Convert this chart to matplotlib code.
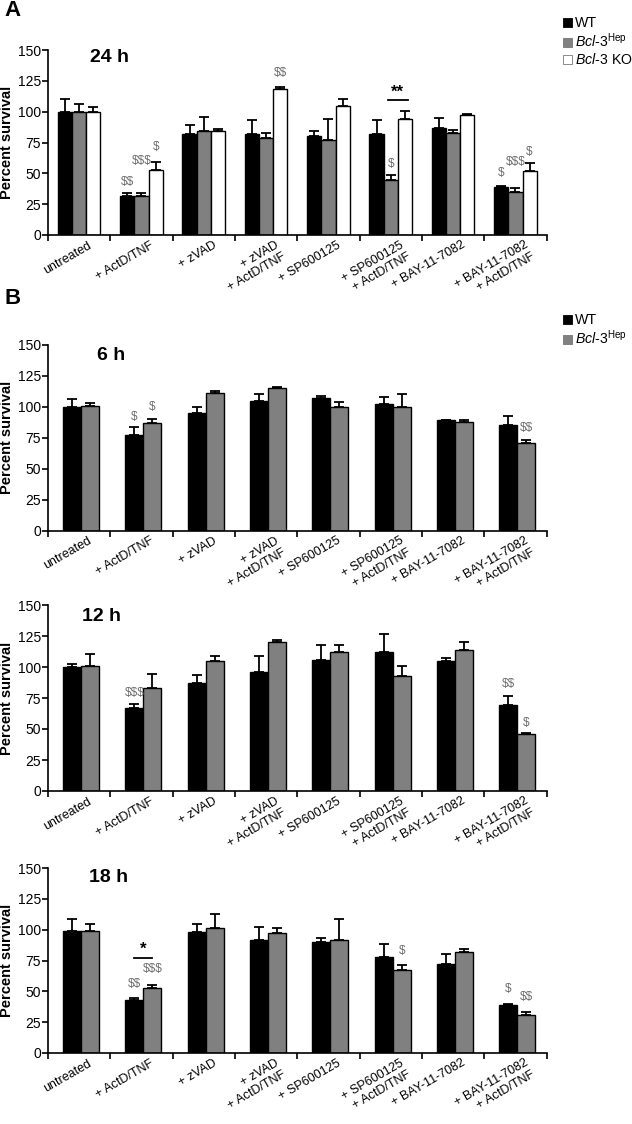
"""Percent survival of hepatocytes after treatment, panels A (24 h) and B (6/12/18 h)."""
import matplotlib

matplotlib.use("Agg")
import matplotlib.pyplot as plt
import numpy as np
from matplotlib.patches import Patch

plt.rcParams["font.family"] = ["Liberation Sans", "DejaVu Sans"]
plt.rcParams["mathtext.fontset"] = "custom"
plt.rcParams["mathtext.rm"] = "Liberation Sans"
plt.rcParams["mathtext.it"] = "Liberation Sans:italic"

TREATMENTS = [
    "untreated", "+ ActD/TNF", "+ zVAD", "+ zVAD\n+ ActD/TNF", "+ SP600125",
    "+ SP600125\n+ ActD/TNF", "+ BAY-11-7082", "+ BAY-11-7082\n+ ActD/TNF",
]

# 24 h (panel A)
wt_24 = [100, 32, 82, 82, 80, 82, 86.5, 38.7]
wt_24_err = [10, 2, 7.5, 11.5, 4, 11, 8, 1]
hep_24 = [100, 32, 84, 79, 77, 45, 82.5, 35]
hep_24_err = [6, 2, 12, 3.5, 17, 4, 3, 3]
ko_24 = [100, 53, 84, 118.5, 104.5, 94, 97, 52]
ko_24_err = [4, 6, 2, 1.5, 6, 6.5, 1, 6]

# 6 h
wt_6 = [100, 77, 95, 105, 107, 102, 89, 85]
wt_6_err = [6.5, 6.5, 4.5, 5.5, 2, 6, 0.5, 8]
hep_6 = [101, 87, 111, 115.5, 100, 100, 88, 71]
hep_6_err = [2.5, 3, 2, 0.3, 4, 10, 1, 2]

# 12 h
wt_12 = [100, 67, 87.5, 96, 105.5, 112.5, 105, 69]
wt_12_err = [2.5, 3.5, 6, 13, 12, 14, 2.5, 8]
hep_12 = [100.5, 83, 105, 120, 112, 92.5, 113.5, 46]
hep_12_err = [10, 11, 3.5, 1.5, 5.5, 8, 7, 0.5]

# 18 h
wt_18 = [99, 43, 98, 91.5, 90, 78, 72, 39]
wt_18_err = [9.5, 1.5, 7, 11, 3.5, 10.5, 8, 1]
hep_18 = [99, 53, 101, 97.5, 92, 67, 82, 31]
hep_18_err = [6, 2.5, 12, 3.5, 17, 4, 2.5, 2.5]

# significance marks: (group, series, text, value)
marks_24 = [(1, 0, "$$", 43), (1, 1, "$$$", 60), (1, 2, "$", 71), (3, 2, "$$", 131),
            (5, 1, "$", 57.5), (7, 0, "$", 50), (7, 1, "$$$", 59), (7, 2, "$", 67)]
marks_6 = [(1, 0, "$", 92), (1, 1, "$", 100), (7, 1, "$$", 83)]
marks_12 = [(1, 0, "$$$", 79), (7, 0, "$$", 86), (7, 1, "$", 55)]
marks_18 = [(1, 0, "$$", 56), (1, 1, "$$$", 68), (5, 1, "$", 82.5), (7, 0, "$", 52), (7, 1, "$$", 45.5)]

COLORS = ["#000000", "#808080", "#ffffff"]


def panel(fig, top_px, bottom_px, title, title_pos, series, errors, marks, width):
    ax = fig.add_axes([48 / 632, 1 - bottom_px / 1124, 498.6 / 632, (bottom_px - top_px) / 1124])
    x = np.arange(len(TREATMENTS))
    n = len(series)
    offsets = (np.arange(n) - (n - 1) / 2) * width + (0.0 if n == 3 else 0.03)
    for i, (values, err) in enumerate(zip(series, errors)):
        ax.bar(x + offsets[i], values, width, color=COLORS[i], edgecolor="black", linewidth=1.0, zorder=2)
        ax.errorbar(x + offsets[i], values, yerr=[np.zeros(len(err)), err], fmt="none", ecolor="black",
                    elinewidth=1.3, capsize=3.5, capthick=1.3, zorder=1)
    for group, idx, text, value in marks:
        ax.text(group + offsets[idx], value, text, ha="center", va="center", fontsize=8.5, color="#6e6e6e",
                parse_math=False)
    ax.set_xlim(-0.5, len(TREATMENTS) - 0.5)
    ax.set_ylim(0, 150)
    ax.set_yticks([0, 25, 50, 75, 100, 125, 150])
    ax.set_xticks(np.arange(len(TREATMENTS) + 1) - 0.5)
    ax.set_xticklabels([])
    ax.set_xticks(x + 0.14, TREATMENTS, minor=True, rotation=30, ha="right", rotation_mode="anchor",
                  fontsize=9, multialignment="right")
    ax.tick_params(axis="x", which="minor", length=0, pad=3)
    ax.tick_params(axis="both", which="major", direction="out", length=4, width=1.2, labelsize=10, pad=1)
    ax.spines[["top", "right"]].set_visible(False)
    ax.spines[["left", "bottom"]].set_linewidth(1.2)
    ax.set_ylabel("Percent survival", fontsize=10.5, fontweight="bold", labelpad=3)
    ax.text(title_pos[0], title_pos[1], title, transform=ax.transAxes, fontsize=14, fontweight="bold",
            ha="left", va="center")
    return ax, offsets


fig = plt.figure(figsize=(6.32, 11.24), dpi=100)

ax_a, off_a = panel(fig, 50, 235, "24 h", (0.084, 0.962), [wt_24, hep_24, ko_24],
                    [wt_24_err, hep_24_err, ko_24_err], marks_24, 0.228)
ax_a.plot([5 + off_a[1] - 0.04, 5 + off_a[2] + 0.05], [109.5, 109.5], color="black", linewidth=1.3)
ax_a.text(5 + (off_a[1] + off_a[2]) / 2, 116, "**", ha="center", va="center", fontsize=12, fontweight="bold")

ax_6, _ = panel(fig, 345, 530.6, "6 h", (0.098, 0.946), [wt_6, hep_6], [wt_6_err, hep_6_err], marks_6, 0.29)
ax_12, _ = panel(fig, 605, 791, "12 h", (0.068, 0.938), [wt_12, hep_12], [wt_12_err, hep_12_err], marks_12, 0.29)
ax_18, off_18 = panel(fig, 868, 1053, "18 h", (0.082, 0.946), [wt_18, hep_18], [wt_18_err, hep_18_err],
                      marks_18, 0.29)
ax_18.plot([1 + off_18[0], 1 + off_18[1]], [77, 77], color="black", linewidth=1.3)
ax_18.text(1 + (off_18[0] + off_18[1]) / 2, 84, "*", ha="center", va="center", fontsize=12, fontweight="bold")

fig.text(4 / 632, 1 - 10 / 1124, "A", fontsize=16, fontweight="bold", ha="left", va="center")
fig.text(4 / 632, 1 - 298 / 1124, "B", fontsize=16, fontweight="bold", ha="left", va="center")

hep_label = r"$\mathit{Bcl}$-$\mathit{3}^{\mathrm{Hep}}$"
ko_label = r"$\mathit{Bcl}$-$\mathit{3}$ KO"
handles = [Patch(facecolor=c, edgecolor="black" if c == "#000000" else "#777777", linewidth=0.6) for c in COLORS]
legend_style = dict(loc="upper left", frameon=False, fontsize=10.2, handlelength=0.6, handleheight=0.6,
                    handletextpad=0.25, labelspacing=0.12, borderpad=0, borderaxespad=0)
fig.legend(handles, ["WT", hep_label, ko_label], bbox_to_anchor=(563 / 632, 1 - 16 / 1124), **legend_style)
fig.legend(handles[:2], ["WT", hep_label], bbox_to_anchor=(563 / 632, 1 - 313 / 1124), **legend_style)

fig.savefig("out.png", dpi=100)
